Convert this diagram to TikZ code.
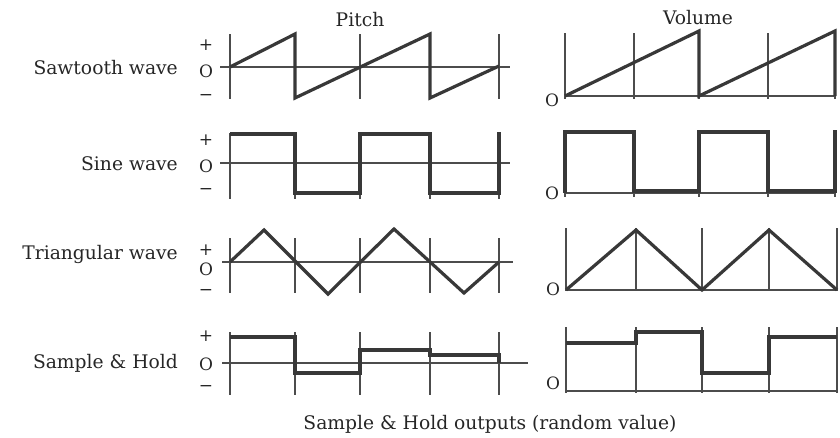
\documentclass[tikz,border=0pt]{standalone}
\usepackage{fontspec}
\setmainfont{DejaVu Serif}
\begin{document}
\begin{tikzpicture}[x=1pt,y=-1pt,
  axis/.style={draw=black!70,line width=1.3pt},
  wave/.style={draw=black!78,line width=3.2pt,line join=miter},
  lbl/.style={font=\fontsize{18.7}{22}\selectfont,text=black!85,inner sep=0pt},
  rowlbl/.style={lbl,anchor=east},
  sgn/.style={font=\fontsize{17}{19}\selectfont,text=black!85,inner sep=0pt}]
\useasboundingbox (0,0) rectangle (840,437);

% titles
\node[lbl] (tpitch) at (360,20) {Pitch};
\node[lbl] (tvol) at (698,18) {Volume};
\node[lbl] (tbottom) at (490,424) {Sample \& Hold outputs (random value)};

% row labels
\node[rowlbl] (lsaw) at (178,68) {Sawtooth wave};
\node[rowlbl] (lsine) at (178,164) {Sine wave};
\node[rowlbl] (ltri) at (178,254) {Triangular wave};
\node[rowlbl] (lsh) at (178,363) {Sample \& Hold};

% sign labels (pitch)
\foreach \p/\o/\m [count=\i] in {45/71/97, 140/166/191, 250/269/292, 336/364/388}{
  \node[sgn] (plus\i) at (206,\p) {+};
  \node[sgn] (zero\i) at (206,\o) {O};
  \node[sgn] (minus\i) at (206,\m) {\char"2212};
}
% volume zero labels
\node[sgn] (vz1) at (552,100) {O};
\node[sgn] (vz2) at (552,193) {O};
\node[sgn] (vz3) at (553,289) {O};
\node[sgn] (vz4) at (553,383) {O};

% ---------- Pitch: sawtooth
\draw[axis] (220,67) -- (510,67);
\foreach \x in {230,295,360,430,499} \draw[axis] (\x,34) -- (\x,99);
\draw[wave] (230,67) -- (295,34) -- (295,98) -- (430,34) -- (430,98) -- (499,66);

% ---------- Pitch: sine (square)
\draw[axis] (220,163) -- (510,163);
\foreach \x in {230,295,360,430,499} \draw[axis] (\x,133) -- (\x,199);
\draw[wave] (230,134) -- (295,134) -- (295,193) -- (360,193) -- (360,134) -- (430,134) -- (430,193) -- (499,193) -- (499,132);

% ---------- Pitch: triangular
\draw[axis] (222,262) -- (513,262);
\foreach \x in {230,295,360,430,499} \draw[axis] (\x,238) -- (\x,293);
\draw[wave] (230,262) -- (264,230) -- (328,294) -- (394,229) -- (464,293) -- (499,262);

% ---------- Pitch: sample & hold
\draw[axis] (222,363) -- (528,363);
\foreach \x in {230,295,360,430,499} \draw[axis] (\x,332) -- (\x,395);
\draw[wave] (230,337) -- (295,337) -- (295,373) -- (360,373) -- (360,350) -- (430,350) -- (430,355) -- (499,355) -- (499,363);

% ---------- Volume: sawtooth
\draw[axis] (565,96) -- (835,96);
\foreach \x in {565,634,699,768,835} \draw[axis] (\x,33) -- (\x,99);
\draw[wave] (565,96) -- (699,31) -- (699,96) -- (835,31) -- (835,96);

% ---------- Volume: sine (square)
\draw[axis] (565,193) -- (835,193);
\foreach \x in {565,634,699,768,835} \draw[axis] (\x,130) -- (\x,197);
\draw[wave] (565,193) -- (565,132) -- (634,132) -- (634,191) -- (699,191) -- (699,132) -- (768,132) -- (768,191) -- (835,191) -- (835,130);

% ---------- Volume: triangular
\draw[axis] (566,290) -- (837,290);
\foreach \x in {566,636,702,769,837} \draw[axis] (\x,228) -- (\x,291);
\draw[wave] (566,290) -- (636,230) -- (702,290) -- (769,230) -- (837,290);

% ---------- Volume: sample & hold
\draw[axis] (566,391) -- (837,391);
\foreach \x in {566,636,702,769,837} \draw[axis] (\x,327) -- (\x,393);
\draw[wave] (566,343) -- (636,343) -- (636,332) -- (702,332) -- (702,373) -- (769,373) -- (769,337) -- (837,337);
\end{tikzpicture}
\end{document}
